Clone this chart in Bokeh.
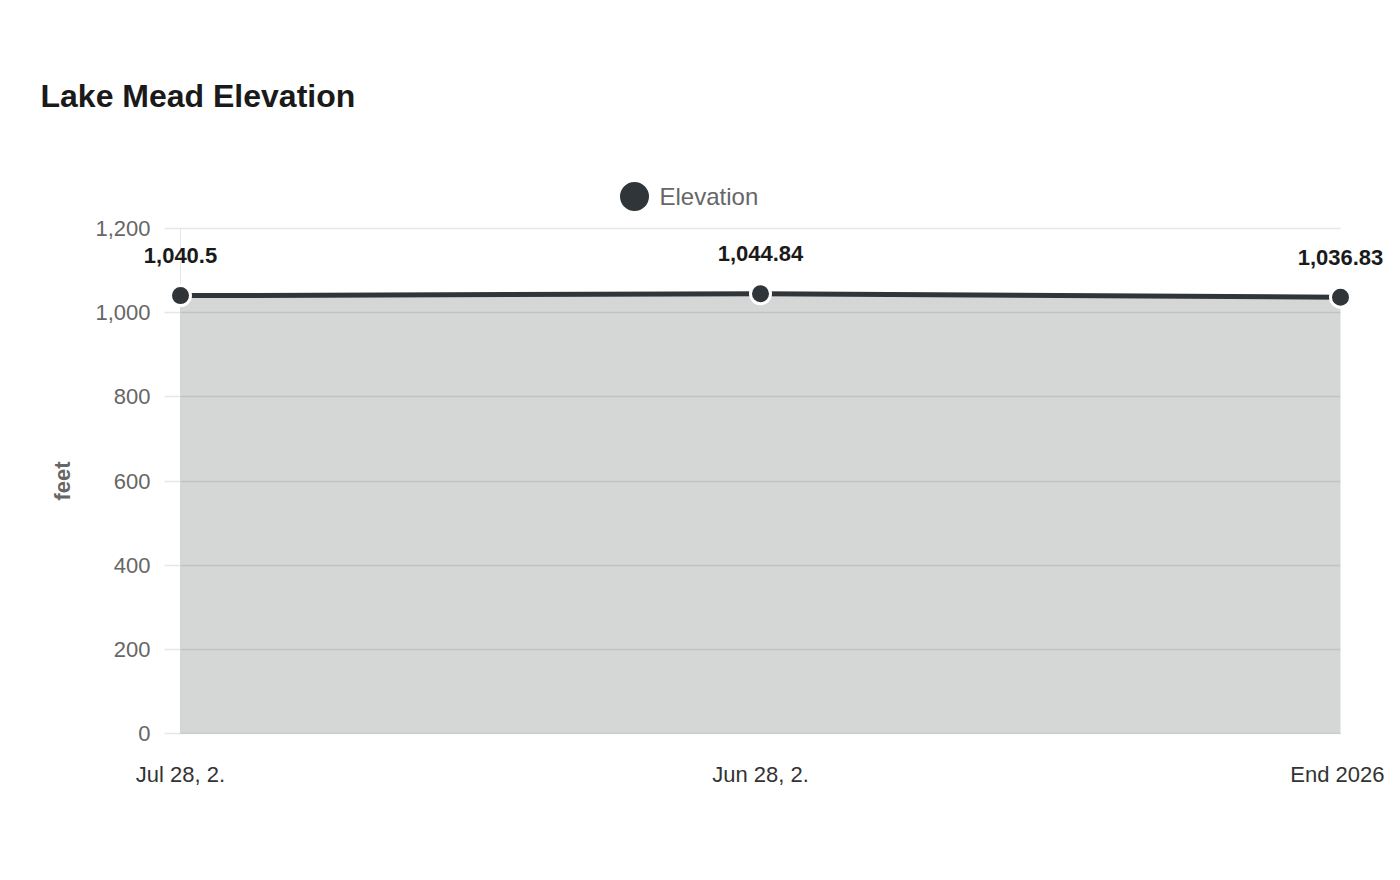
from bokeh.plotting import figure
from bokeh.models import (ColumnDataSource, Range1d, FixedTicker, NumeralTickFormatter,
                          LabelSet, Label, Legend, LegendItem)
from bokeh.core.properties import value
from bokeh.embed import file_html
from bokeh.resources import INLINE

# 數據
categories = ["Jul 28, 2.", "Jun 28, 2.", "End 2026"]
elevation = [1040.5, 1044.84, 1036.83]
y_ticks = [0, 200, 400, 600, 800, 1000, 1200]
series_name = "Elevation"

FONT = "Liberation Sans"
LINE = "#2f3538"

# 畫布與繪圖區 (像素)
W, H = 1384, 864
PL, PR, PT, PB = 180, 1340, 228, 733
y_max = 1200

# 讓繪圖區佔滿整個畫布, 軸固定在資料座標上 (才不會裁切標籤)
n = len(categories) - 1
kx = (PR - PL) / n
ky = (PB - PT) / y_max
x_range = Range1d(-PL / kx, (W - PL) / kx)
y_range = Range1d(-(H - PB) / ky, PB / ky)

xs = list(range(len(categories)))
source = ColumnDataSource(data=dict(
    x=xs,
    y=elevation,
    base=[0] * len(elevation),
    label=[f"{v:,}" for v in elevation],
))

p = figure(width=W, height=H, output_backend="svg", toolbar_location=None,
           x_range=x_range, y_range=y_range,
           min_border_left=0, min_border_right=0, min_border_top=0, min_border_bottom=0)
p.outline_line_color = None
p.xgrid.grid_line_color = None
p.ygrid.grid_line_color = None

# y 軸 (刻度線往內延伸當作格線)
p.yaxis.fixed_location = 0
p.yaxis.bounds = (0, y_max)
p.yaxis.level = "underlay"
p.yaxis.ticker = FixedTicker(ticks=y_ticks)
p.yaxis.formatter = NumeralTickFormatter(format="0,0")
p.yaxis.axis_line_color = "#e6e6e6"
p.yaxis.major_tick_line_color = "#e6e6e6"
p.yaxis.major_tick_line_width = 1.5
p.yaxis.major_tick_in = PR - PL
p.yaxis.major_tick_out = 16
p.yaxis.minor_tick_line_color = None
p.yaxis.major_label_standoff = 14
p.yaxis.major_label_text_font = FONT
p.yaxis.major_label_text_font_size = "22px"
p.yaxis.major_label_text_color = "#666666"
p.yaxis.axis_label = "feet"
p.yaxis.axis_label_text_font = FONT
p.yaxis.axis_label_text_font_size = "22px"
p.yaxis.axis_label_text_font_style = "bold"
p.yaxis.axis_label_text_color = "#666666"
p.yaxis.axis_label_standoff = 17

# x 軸
p.xaxis.fixed_location = 0
p.xaxis.bounds = (0, n)
p.xaxis.ticker = FixedTicker(ticks=xs)
p.xaxis.major_label_overrides = {i: c for i, c in zip(xs, categories)}
p.xaxis.major_tick_line_color = None
p.xaxis.minor_tick_line_color = None
p.xaxis.axis_line_color = "#cccccc"
p.xaxis.major_label_standoff = 22
p.xaxis.major_label_text_font = FONT
p.xaxis.major_label_text_font_size = "22px"
p.xaxis.major_label_text_color = "#333333"

# 面積 + 線 + 點
p.varea(x="x", y1="base", y2="y", source=source, fill_color=LINE, fill_alpha=0.2)
p.line(x="x", y="y", source=source, line_color=LINE, line_width=5)
pts = p.scatter(x="x", y="y", source=source, size=20, fill_color=LINE,
                line_color="white", line_width=3)

# 數據標籤
labels = LabelSet(x="x", y="y", text="label", source=source, y_offset=40,
                  text_align="center", text_baseline="middle",
                  text_font=value(FONT), text_font_size=value("22px"),
                  text_font_style="bold", text_color="#1a1a1a")
p.add_layout(labels)

# 標題
title = Label(x=40, y=H - 95, x_units="screen", y_units="screen", text="Lake Mead Elevation",
              text_font=FONT, text_font_size="32px", text_font_style="bold",
              text_color="#1a1a1a", text_baseline="middle", text_align="left")
p.add_layout(title)

# 圖例: 圖示用 Legend, 文字另外放 (Legend 的 label_standoff 不能為負)
legend = Legend(items=[LegendItem(label=series_name, renderers=[pts])],
                location=(594, H - 156 - 80), glyph_width=80, glyph_height=80,
                label_standoff=0, padding=0, margin=0, spacing=0,
                border_line_color=None, background_fill_alpha=0,
                label_text_alpha=0, label_text_font_size="24px")
p.add_layout(legend)
legend_text = Label(x=659, y=H - 196, x_units="screen", y_units="screen", text=series_name,
                    text_font=FONT, text_font_size="24px", text_color="#666666",
                    text_baseline="middle", text_align="left")
p.add_layout(legend_text)

open("out.html", "w").write(file_html(p, INLINE))
